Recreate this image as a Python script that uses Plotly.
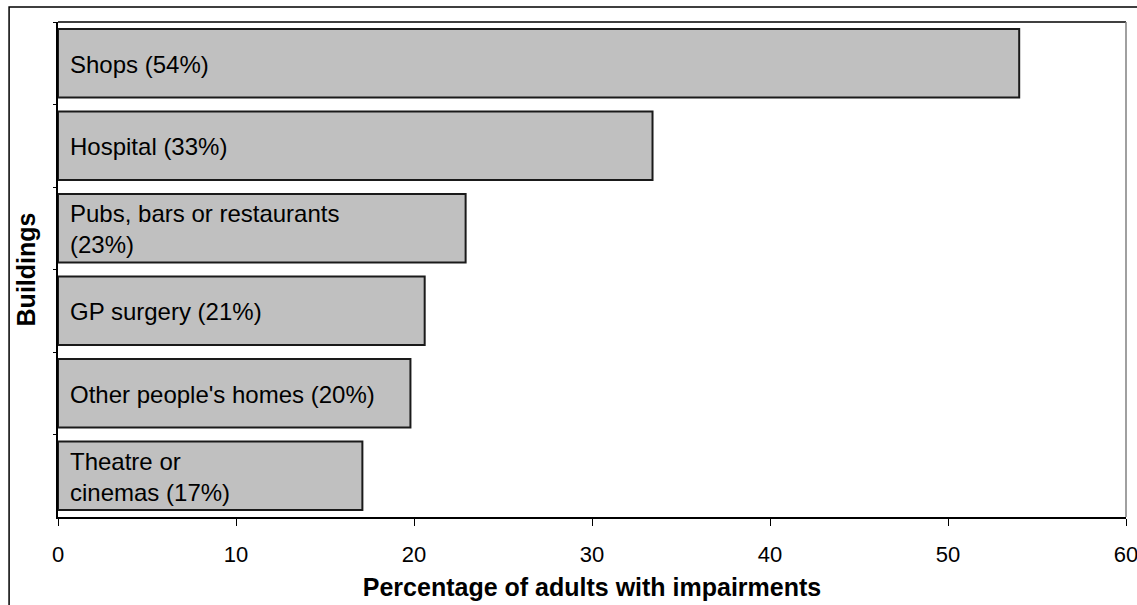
import plotly.graph_objects as go

# Buildings where adults with impairments reported access difficulties
buildings = [
    "Shops",
    "Hospital",
    "Pubs, bars or restaurants",
    "GP surgery",
    "Other people's homes",
    "Theatre or cinemas",
]
# Line-broken versions of the names used for the in-bar labels
label_names = [
    "Shops",
    "Hospital",
    "Pubs, bars or restaurants<br>",
    "GP surgery",
    "Other people's homes",
    "Theatre or<br>cinemas",
]
percentages = [54.0, 33.4, 22.9, 20.6, 19.8, 17.1]

x_ticks = [0, 10, 20, 30, 40, 50, 60]

FONT = "Liberation Sans, Arial, sans-serif"

fig = go.Figure()
fig.add_trace(go.Bar(
    x=percentages,
    y=buildings,
    orientation="h",
    marker=dict(color="#C0C0C0", line=dict(color="#1a1a1a", width=2)),
    width=0.83,
    hoverinfo="skip",
))

for name, lab, val in zip(buildings, label_names, percentages):
    sep = "" if lab.endswith("<br>") else " "
    fig.add_annotation(
        x=0, y=name, xref="x", yref="y",
        text=f"{lab}{sep}({val:.0f}%)",
        xanchor="left", xshift=10, yshift=-1,
        align="left", showarrow=False,
        font=dict(family=FONT, size=24, color="#000000"),
    )

# Outer chart frame (runs off the right and bottom of the page)
fig.add_shape(type="rect", xref="paper", yref="paper",
              x0=-0.0458, x1=1.05, y0=-0.3, y1=1.0303,
              line=dict(color="#000000", width=1.5), layer="below")
# Plot-area border: black top edge, grey right edge
fig.add_shape(type="line", xref="paper", yref="paper",
              x0=0, x1=1, y0=1, y1=1, line=dict(color="#000000", width=1.5))
fig.add_shape(type="line", xref="paper", yref="paper",
              x0=1, x1=1, y0=0, y1=1, line=dict(color="#808080", width=1.5))

fig.update_layout(
    width=1137, height=605,
    margin=dict(l=58, r=11, t=22, b=88, autoexpand=False),
    paper_bgcolor="white", plot_bgcolor="white",
    showlegend=False,
    bargap=0.17,
    font=dict(family=FONT, size=24, color="#000000"),
    xaxis=dict(
        range=[0, 60], tickvals=x_ticks, ticktext=[str(t) for t in x_ticks],
        showgrid=False, zeroline=False, automargin=False,
        showline=True, linecolor="#000000", linewidth=1.5,
        ticks="outside", ticklen=7, tickcolor="#000000", tickwidth=1,
        tickfont=dict(family=FONT, size=22),
        ticklabelstandoff=10, ticklabeloverflow="allow",
        title=dict(text="<b>Percentage of adults with impairments</b>",
                   font=dict(family=FONT, size=25), standoff=12),
    ),
    yaxis=dict(
        categoryorder="array", categoryarray=buildings, autorange="reversed",
        showticklabels=False, showgrid=False, zeroline=False, automargin=False,
        showline=True, linecolor="#000000", linewidth=1.5,
        ticks="outside", tickson="boundaries", ticklen=3, tickcolor="#000000",
        title=dict(text="<b>Buildings</b>",
                   font=dict(family=FONT, size=25), standoff=14),
    ),
)

fig.write_html("out.html")
